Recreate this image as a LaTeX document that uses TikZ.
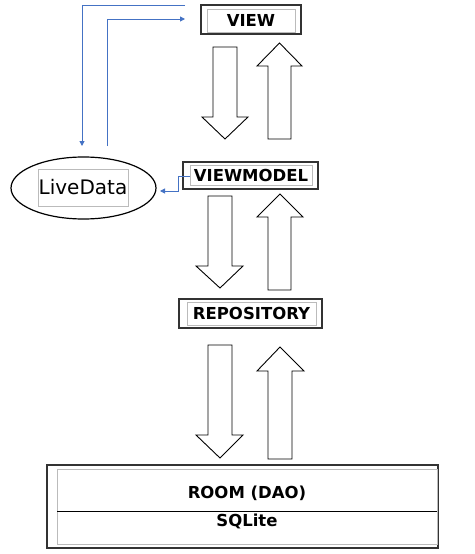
\documentclass[tikz,border=0pt]{standalone}
\usepackage{fontspec}
\setmainfont{DejaVu Sans}
\usetikzlibrary{arrows.meta,shapes.geometric}
\definecolor{linkblue}{HTML}{4472C4}
\definecolor{outergray}{HTML}{333333}
\definecolor{innergray}{HTML}{BBBBBB}
\tikzset{
  outerbox/.style={draw=outergray,line width=1.4pt},
  innerbox/.style={draw=innergray,line width=0.9pt,inner sep=0pt,anchor=center,
     font=\fontsize{16.5}{19}\selectfont\bfseries},
  fatarrow/.style={draw=black,line width=0.9pt,fill=white,line join=miter},
  link/.style={draw=linkblue,line width=1pt,-{Triangle[length=5pt,width=5pt]}},
}
\begin{document}
\begin{tikzpicture}[x=1pt,y=-1pt]
\useasboundingbox (0,0) rectangle (474,554);
% VIEW
\draw[outerbox] (201,5) rectangle (301,34);
\node[innerbox,minimum width=88pt,minimum height=23pt] (view) at (251,20.5) {VIEW};
% VIEWMODEL
\draw[outerbox] (183,162) rectangle (318,189);
\node[innerbox,minimum width=122pt,minimum height=20pt] (vm) at (251,175.5) {VIEWMODEL};
% REPOSITORY
\draw[outerbox] (179,299) rectangle (322,328);
\node[innerbox,minimum width=129pt,minimum height=23pt] (repo) at (251.5,313.5) {REPOSITORY};
% ROOM / SQLite
\draw[outerbox] (47,465) rectangle (438,548);
\draw[draw=innergray,line width=0.9pt] (57,469) rectangle (437,544);
\draw[black,line width=1pt] (57,511) -- (437,511);
\node[font=\fontsize{16.5}{19}\selectfont\bfseries,inner sep=0pt] (room) at (247,493) {ROOM (DAO)};
\node[font=\fontsize{16.5}{19}\selectfont\bfseries,inner sep=0pt] (sqlite) at (247,521) {SQLite};
% LiveData
\node[draw=black,line width=1.2pt,ellipse,minimum width=145pt,minimum height=62pt,inner sep=0pt] (live) at (83.5,188) {};
\node[draw=innergray,line width=0.9pt,minimum width=90pt,minimum height=37pt,inner sep=0pt,
  font=\fontsize{20}{24}\selectfont] (livetext) at (83,187.5) {LiveData};
% fat arrows
\draw[fatarrow] (213,47) -- (237,47) -- (237,117) -- (248,117) -- (225,139) -- (202,117) -- (213,117) -- cycle;
\draw[fatarrow] (268,139) -- (291,139) -- (291,66) -- (302,66) -- (279.5,43) -- (257,66) -- (268,66) -- cycle;
\draw[fatarrow] (208,196) -- (232,196) -- (232,266) -- (243,266) -- (220,288) -- (196,266) -- (208,266) -- cycle;
\draw[fatarrow] (268,290) -- (291,290) -- (291,217) -- (303,217) -- (280,194) -- (257,217) -- (268,217) -- cycle;
\draw[fatarrow] (208,345) -- (232,345) -- (232,435) -- (243,435) -- (220,458) -- (196,435) -- (208,435) -- cycle;
\draw[fatarrow] (268,459) -- (292,459) -- (292,371) -- (304,371) -- (280,347) -- (257,371) -- (268,371) -- cycle;
% blue links
\coordinate (a0) at (185,5);
\coordinate (a1) at (82,146);
\draw[link] (a0) -- (82,5) -- (a1);
\coordinate (b0) at (107,146);
\coordinate (b1) at (185,19);
\draw[link] (b0) -- (107,19) -- (b1);
\coordinate (c1) at (160,191);
\draw[link] (vm.west |- 0,176) -- (178,176) -- (178,191) -- (c1);
\end{tikzpicture}
\end{document}
